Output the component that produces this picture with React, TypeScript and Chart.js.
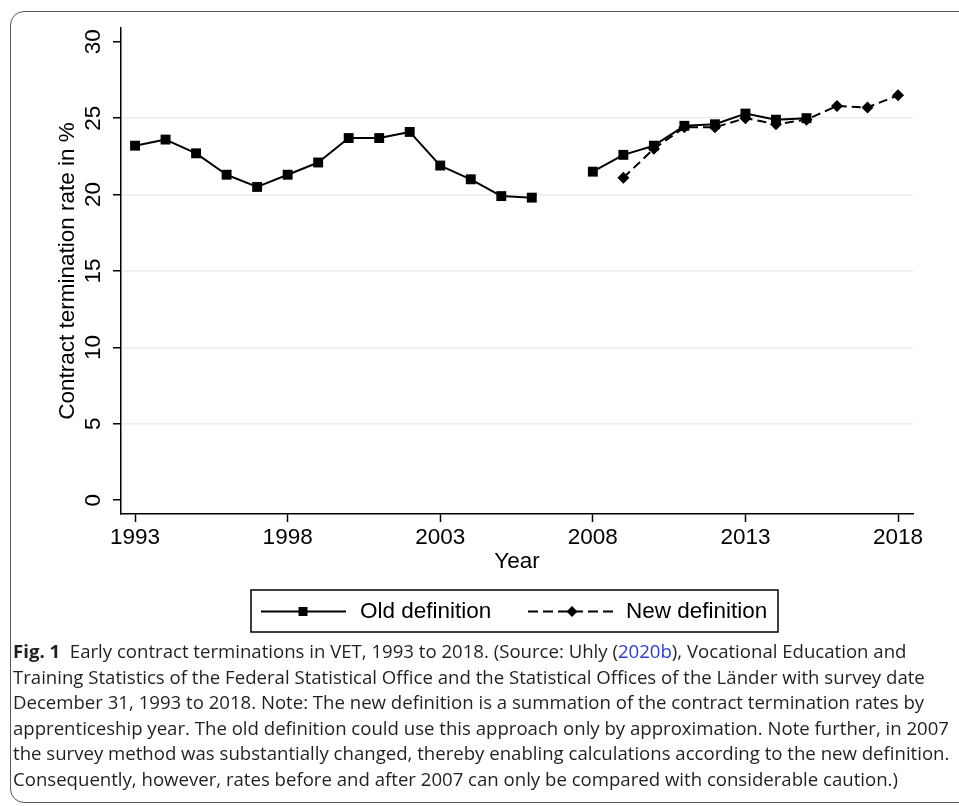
import React, { useEffect, useRef } from "react";
import { Chart, registerables } from "chart.js";

Chart.register(...registerables);

// Contract termination rates (%), one entry per survey year
const YEARS = [
  1993, 1994, 1995, 1996, 1997, 1998, 1999, 2000, 2001, 2002, 2003, 2004, 2005,
  2006, 2007, 2008, 2009, 2010, 2011, 2012, 2013, 2014, 2015, 2016, 2017, 2018,
];
const OLD_DEFINITION = [
  23.2, 23.6, 22.7, 21.3, 20.5, 21.3, 22.1, 23.7, 23.7, 24.1, 21.9, 21.0, 19.9,
  19.8, null, 21.5, 22.6, 23.2, 24.5, 24.6, 25.3, 24.9, 25.0, null, null, null,
];
const NEW_DEFINITION = [
  null, null, null, null, null, null, null, null, null, null, null, null, null,
  null, null, null, 21.1, 23.0, 24.4, 24.4, 25.0, 24.6, 24.9, 25.8, 25.7, 26.5,
];

const X_TICKS = [1993, 1998, 2003, 2008, 2013, 2018];
const Y_TICKS = [0, 5, 10, 15, 20, 25, 30];
const Y_GRID = [5, 10, 15, 20, 25];
const SERIES_LABELS = ["Old definition", "New definition"];
const X_TITLE = "Year";
const Y_TITLE = "Contract termination rate in %";

const AXIS_FONT = "'Liberation Sans', Arial, Helvetica, sans-serif";
const FONT_SIZE = 22.5;
const CANVAS_W = 959;
const CANVAS_H = 645;

const toPoints = (values: (number | null)[]) =>
  YEARS.map((year, i) => ({ x: year, y: values[i] }));

// Rotated y tick labels and the boxed legend underneath the plot
const stataDecor = {
  id: "stataDecor",
  afterDraw(chart: any) {
    const { ctx, scales } = chart;
    const yScale = scales.y;
    ctx.save();
    ctx.fillStyle = "#000";
    ctx.font = `${FONT_SIZE}px ${AXIS_FONT}`;
    ctx.textAlign = "center";
    ctx.textBaseline = "middle";
    for (const t of yScale.ticks) {
      const py = yScale.getPixelForValue(t.value);
      ctx.save();
      ctx.translate(94, py);
      ctx.rotate(-Math.PI / 2);
      ctx.fillText(String(t.value), 0, 0);
      ctx.restore();
    }

    // legend frame
    ctx.lineWidth = 1.5;
    ctx.strokeStyle = "#000";
    ctx.strokeRect(251, 590, 527, 42);
    const ly = 611.5;

    // old definition key: solid line with square
    ctx.lineWidth = 2;
    ctx.setLineDash([]);
    ctx.beginPath();
    ctx.moveTo(261, ly);
    ctx.lineTo(346, ly);
    ctx.stroke();
    ctx.fillRect(303 - 4.5, ly - 4.5, 9, 9);

    // new definition key: dashed line with diamond
    ctx.setLineDash([10, 5]);
    ctx.beginPath();
    ctx.moveTo(528, ly);
    ctx.lineTo(613, ly);
    ctx.stroke();
    ctx.setLineDash([]);
    ctx.beginPath();
    ctx.moveTo(572 - 5.5, ly);
    ctx.lineTo(572, ly - 5.5);
    ctx.lineTo(572 + 5.5, ly);
    ctx.lineTo(572, ly + 5.5);
    ctx.closePath();
    ctx.fill();

    ctx.textAlign = "left";
    ctx.fillText(SERIES_LABELS[0], 360, ly);
    ctx.fillText(SERIES_LABELS[1], 626, ly);
    ctx.restore();
  },
};

function TerminationChart() {
  const canvasRef = useRef<HTMLCanvasElement | null>(null);

  useEffect(() => {
    const canvas = canvasRef.current;
    if (!canvas) return;
    const font = { family: AXIS_FONT, size: FONT_SIZE };
    const chart = new Chart(canvas, {
      type: "line",
      data: {
        datasets: [
          {
            label: SERIES_LABELS[0],
            data: toPoints(OLD_DEFINITION),
            borderColor: "#000",
            backgroundColor: "#000",
            borderWidth: 2,
            borderJoinStyle: "round",
            pointStyle: "rect",
            pointRadius: 7,
            pointBorderWidth: 0,
            pointBackgroundColor: "#000",
            spanGaps: false,
            tension: 0,
          },
          {
            label: SERIES_LABELS[1],
            data: toPoints(NEW_DEFINITION),
            borderColor: "#000",
            backgroundColor: "#000",
            borderWidth: 2,
            borderDash: [9, 5],
            borderJoinStyle: "round",
            pointStyle: "rectRot",
            pointRadius: 6,
            pointBorderWidth: 0,
            pointBackgroundColor: "#000",
            spanGaps: false,
            tension: 0,
          },
        ],
      },
      options: {
        responsive: false,
        animation: false,
        devicePixelRatio: 1,
        events: [],
        layout: { padding: { left: 0, top: 28, right: 46, bottom: 0 } },
        plugins: {
          legend: { display: false },
          tooltip: { enabled: false },
          title: { display: false },
        },
        scales: {
          x: {
            type: "linear",
            min: 1992.54,
            max: 2018.49,
            afterBuildTicks: (s: any) => {
              s.ticks = X_TICKS.map((value) => ({ value }));
            },
            afterFit: (s: any) => {
              s.height = CANVAS_H - 514;
            },
            ticks: {
              callback: (v: any) => String(v),
              font,
              color: "#000",
              padding: 2,
              maxRotation: 0,
              minRotation: 0,
              autoSkip: false,
            },
            grid: {
              drawOnChartArea: false,
              drawTicks: true,
              tickLength: 8,
              tickColor: "#000",
              tickWidth: 1.5,
            },
            border: { display: true, color: "#000", width: 1.5 },
            title: {
              display: true,
              text: X_TITLE,
              font,
              color: "#000",
              padding: { top: 0, bottom: 69.5 },
            },
          },
          y: {
            type: "linear",
            min: -0.9,
            max: 30.9,
            afterBuildTicks: (s: any) => {
              s.ticks = Y_TICKS.map((value) => ({ value }));
            },
            afterFit: (s: any) => {
              s.width = 121;
            },
            ticks: { display: false },
            grid: {
              color: (c: any) =>
                c.tick && Y_GRID.includes(c.tick.value) ? "#ececec" : "rgba(0,0,0,0)",
              lineWidth: 1.5,
              drawTicks: true,
              tickLength: 8,
              tickColor: "#000",
              tickWidth: 1.5,
            },
            border: { display: true, color: "#000", width: 1.5 },
            title: {
              display: true,
              text: Y_TITLE,
              font,
              color: "#000",
              padding: { top: 54.5, bottom: 0 },
            },
          },
        },
      },
      plugins: [stataDecor],
    } as any);
    return () => chart.destroy();
  }, []);

  return (
    <canvas
      ref={canvasRef}
      width={CANVAS_W}
      height={CANVAS_H}
      style={{ position: "absolute", left: 0, top: 0, width: CANVAS_W, height: CANVAS_H }}
    />
  );
}

const captionStyle: React.CSSProperties = {
  position: "absolute",
  left: 13,
  top: 638,
  fontFamily: "'Open Sans', 'Noto Sans', sans-serif",
  fontSize: 18.6,
  lineHeight: "25.6px",
  color: "#231f20",
  whiteSpace: "nowrap",
};

export default function App() {
  return (
    <div style={{ position: "absolute", left: 0, top: 0, width: 959, height: 806, overflow: "hidden", background: "#fff" }}>
      <div
        style={{
          position: "absolute",
          left: 10,
          top: 11,
          width: 1000,
          height: 792,
          boxSizing: "border-box",
          border: "1px solid #58595b",
          borderRadius: 14,
        }}
      />
      <TerminationChart />
      <div style={captionStyle}>
        <div>
          <b>Fig. 1</b>&nbsp;&nbsp;Early contract terminations in VET, 1993 to 2018. (Source: Uhly (
          <span style={{ color: "#2b3ed8" }}>2020b</span>), Vocational Education and
        </div>
        <div>Training Statistics of the Federal Statistical Office and the Statistical Offices of the Länder with survey date</div>
        <div>December 31, 1993 to 2018. Note: The new definition is a summation of the contract termination rates by</div>
        <div>apprenticeship year. The old definition could use this approach only by approximation. Note further, in 2007</div>
        <div>the survey method was substantially changed, thereby enabling calculations according to the new definition.</div>
        <div>Consequently, however, rates before and after 2007 can only be compared with considerable caution.)</div>
      </div>
    </div>
  );
}
